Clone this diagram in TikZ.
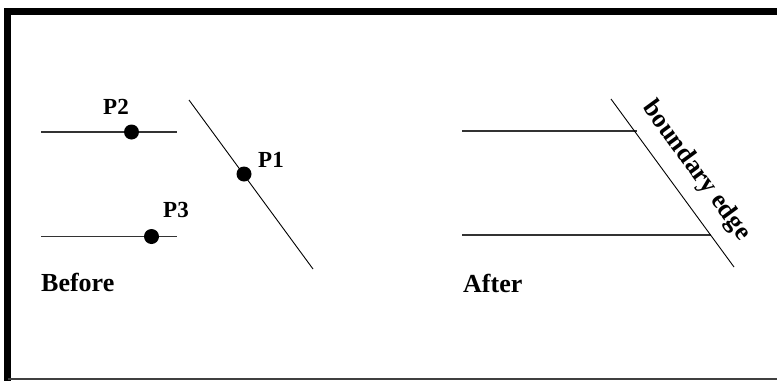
\documentclass[tikz,border=0pt]{standalone}
\usepackage{fontspec}
\setmainfont{Liberation Serif}
\begin{document}
\begin{tikzpicture}[x=1pt,y=-1pt,
  lbl/.style={font=\fontsize{23}{23}\selectfont\bfseries, inner sep=0pt},
  biglbl/.style={font=\fontsize{26}{26}\selectfont\bfseries, inner sep=0pt},
  dot/.style={circle, fill=black, minimum size=15pt, inner sep=0pt},
  hline/.style={line width=1.6pt, draw=black!80},
  dline/.style={line width=0.9pt, draw=black}]
\useasboundingbox (0,0) rectangle (777,381);
% frame
\coordinate (ftr) at (777,11.5);
\coordinate (ftl) at (7.5,11.5);
\coordinate (fbl) at (7.5,381);
\draw[line width=7pt] (ftr) -- (ftl) -- (fbl);
\coordinate (bbl) at (7.5,379.2);
\coordinate (bbr) at (777,379.2);
\draw[line width=1.6pt, draw=black!75] (bbl) -- (bbr);
% Before
\coordinate (a1) at (41,132);
\coordinate (a2) at (177,132);
\coordinate (b1) at (41,236.5);
\coordinate (b2) at (177,236.5);
\coordinate (d1) at (189,100);
\coordinate (d2) at (313,269);
\draw[hline] (a1) -- (a2);
\draw[hline] (b1) -- (b2);
\draw[dline] (d1) -- (d2);
\node[dot] (P2) at (131.5,132) {};
\node[dot] (P3) at (151.5,236.5) {};
\node[dot] (P1) at (244,174) {};
\node[lbl] (l2) at (116,107) {P2};
\node[lbl] (l3) at (176,210) {P3};
\node[lbl] (l1) at (271,160) {P1};
\node[biglbl, anchor=west] (before) at (41,282.5) {Before};
% After
\coordinate (c1) at (462,131);
\coordinate (c2) at (637,131);
\coordinate (e1) at (462,235);
\coordinate (e2) at (711,235);
\coordinate (g1) at (611,99);
\coordinate (g2) at (734,267);
\draw[hline] (c1) -- (c2);
\draw[hline] (e1) -- (e2);
\draw[dline] (g1) -- (g2);
\node[biglbl, anchor=west] (after) at (463,283) {After};
\node[biglbl, rotate=-53.8] (be) at (696,171) {boundary edge};
\end{tikzpicture}
\end{document}
